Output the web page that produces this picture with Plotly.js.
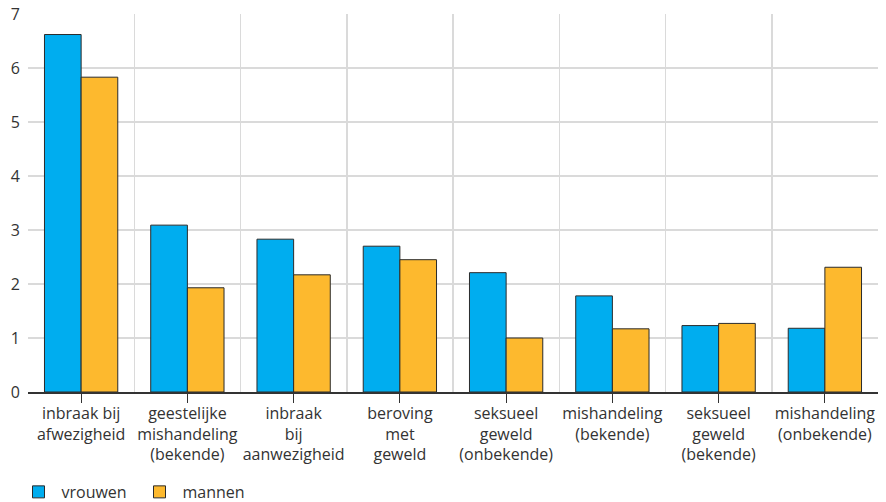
<!DOCTYPE html>
<html>
<head>
<meta charset="utf-8">
<script src="https://cdn.plot.ly/plotly-3.0.1.min.js"></script>
<style>html,body{margin:0;padding:0;background:#fff;}#chart{width:886px;height:502px;}</style>
</head>
<body>
<div id="chart"></div>
<script>
const categories = [
  "inbraak bij<br>afwezigheid",
  "geestelijke<br>mishandeling<br>(bekende)",
  "inbraak<br>bij<br>aanwezigheid",
  "beroving<br>met<br>geweld",
  "seksueel<br>geweld<br>(onbekende)",
  "mishandeling<br>(bekende)",
  "seksueel<br>geweld<br>(bekende)",
  "mishandeling<br>(onbekende)"
];
const vrouwen = [6.62, 3.09, 2.83, 2.70, 2.21, 1.78, 1.23, 1.18];
const mannen  = [5.83, 1.93, 2.17, 2.45, 1.00, 1.17, 1.27, 2.31];
const yTicks = [0, 1, 2, 3, 4, 5, 6, 7];

const idx = categories.map((_, i) => i);
const textColor = "#333333";
const fontFam = "Open Sans, Noto Sans, sans-serif";

const traces = [
  {type: "bar", name: "vrouwen", x: idx, y: vrouwen,
   marker: {color: "#00adef", line: {color: "#2b2b2b", width: 1}}},
  {type: "bar", name: "mannen", x: idx, y: mannen,
   marker: {color: "#fdb92e", line: {color: "#2b2b2b", width: 1}}}
];

const layout = {
  width: 886, height: 502,
  margin: {l: 28, r: 8, t: 14, b: 110, pad: 0},
  paper_bgcolor: "#ffffff", plot_bgcolor: "#ffffff",
  font: {family: fontFam, size: 16, color: textColor},
  barmode: "group", bargap: 0.31, bargroupgap: 0,
  showlegend: true,
  legend: {orientation: "h", x: 0.0175, xref: "container", xanchor: "left",
           y: 0.02, yref: "container", yanchor: "middle",
           font: {size: 16, color: textColor}, itemwidth: 36,
           entrywidth: 70, entrywidthmode: "pixels", tracegroupgap: 0},
  xaxis: {
    type: "linear", range: [-0.5, 7.5], automargin: false,
    tickmode: "array", tickvals: idx, ticktext: categories,
    ticks: "outside", ticklen: 9, tickcolor: "#333333", tickwidth: 1,
    ticklabelstandoff: -3,
    showgrid: false, zeroline: false,
    showline: true, linecolor: "#333333", linewidth: 1.5,
    tickfont: {size: 16, color: textColor},
    minor: {tickmode: "linear", tick0: 0.5, dtick: 1, showgrid: true,
            gridcolor: "#dadada", gridwidth: 1.5, ticks: ""},
    fixedrange: true
  },
  yaxis: {
    range: [0, 7], tickmode: "array", tickvals: yTicks, automargin: false,
    showgrid: true, gridcolor: "#dadada", gridwidth: 1.5,
    zeroline: false, showline: false, ticks: "",
    ticklabelstandoff: 7,
    tickfont: {size: 16, color: textColor},
    fixedrange: true
  }
};

Plotly.newPlot("chart", traces, layout, {displayModeBar: false, staticPlot: true});
</script>
</body>
</html>
